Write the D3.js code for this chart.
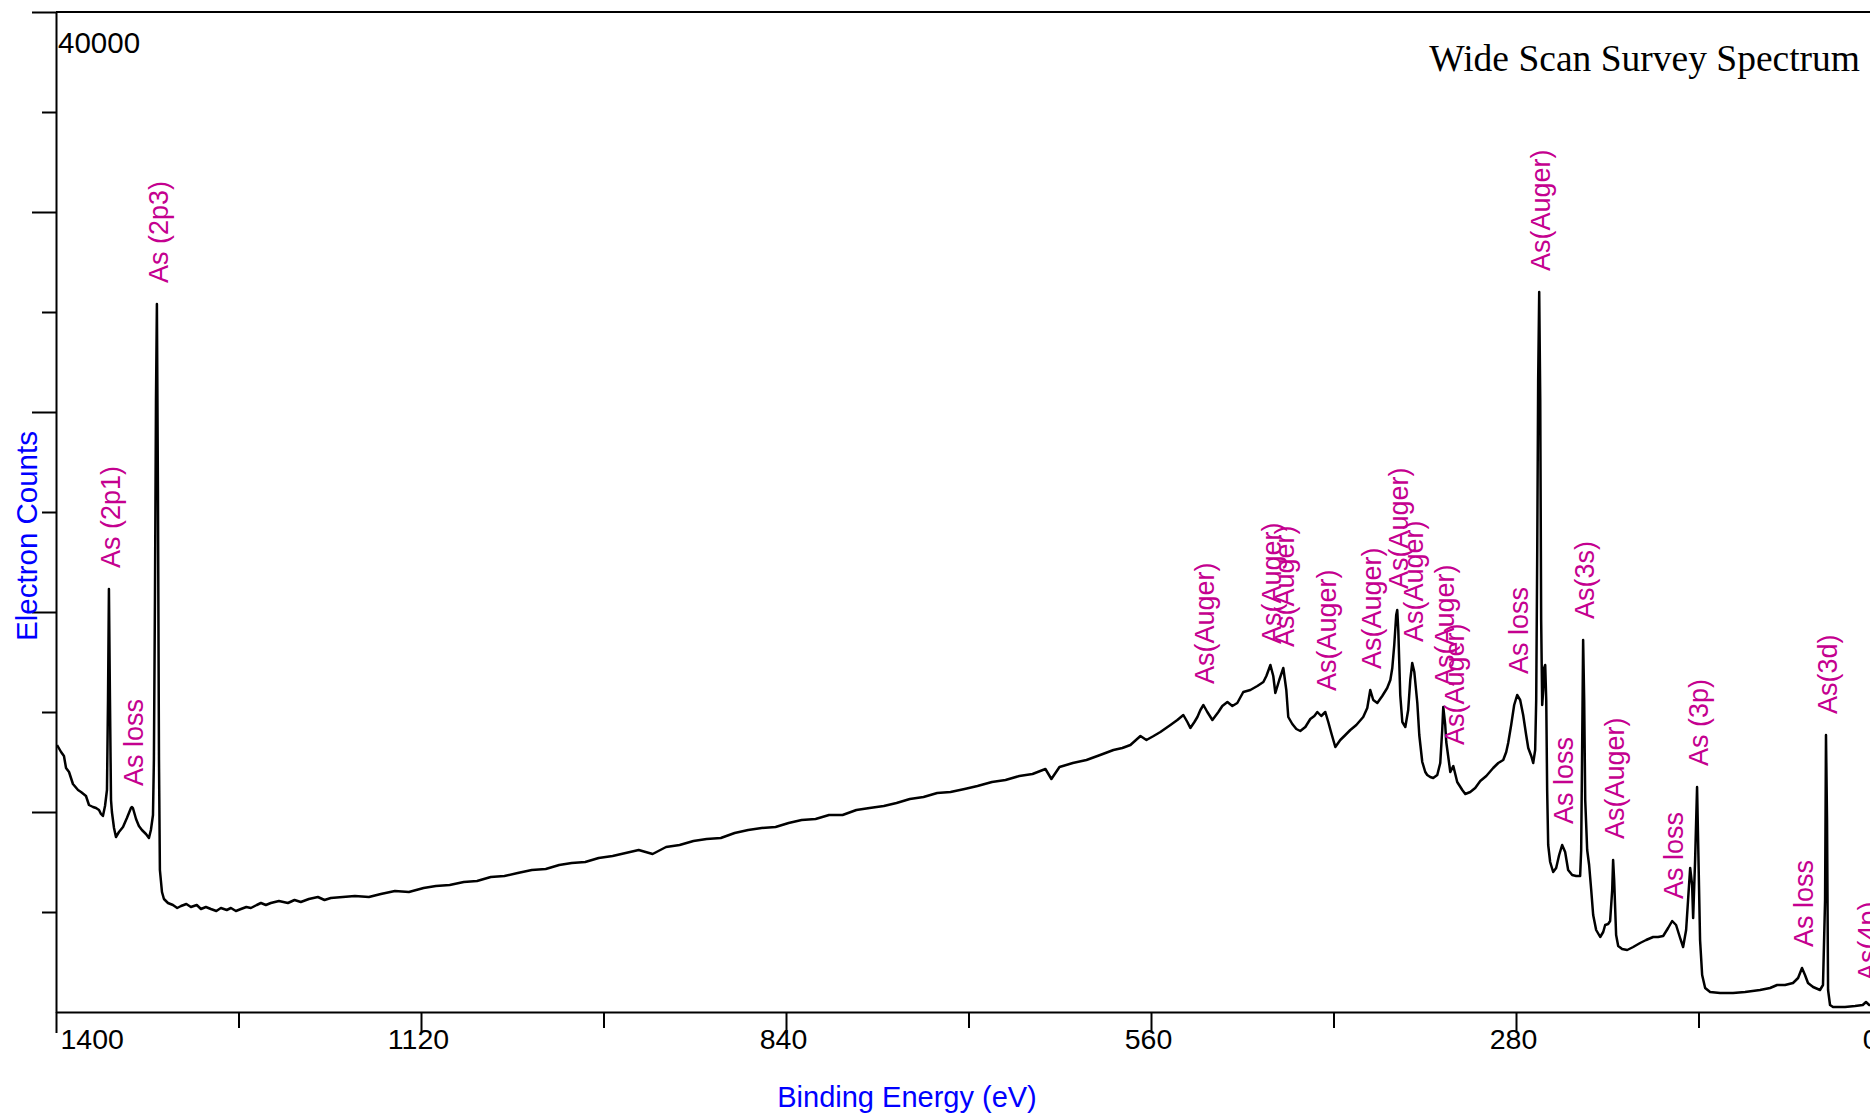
<!DOCTYPE html>
<html>
<head>
<meta charset="utf-8">
<title>Wide Scan Survey Spectrum</title>
<script src="https://cdn.jsdelivr.net/npm/d3@7"></script>
<style>
  html, body { margin: 0; padding: 0; background: #ffffff; }
  svg { display: block; }
  text { font-family: "Liberation Sans", Arial, sans-serif; }
</style>
</head>
<body>
<svg id="chart" width="1870" height="1117"></svg>
<script>
// XPS survey spectrum of arsenic: binding energy (eV) and electron counts
const energy = [
  1399.2, 1396.1, 1393.9, 1392.3, 1390.0, 1387.0, 1383.1, 1380.8, 1377.0, 1374.7,
  1371.6, 1369.3, 1367.0, 1365.5, 1364.0, 1362.4, 1360.9, 1360.1, 1359.4, 1358.6,
  1357.8, 1357.1, 1355.5, 1354.0, 1351.7, 1348.6, 1345.6, 1342.5, 1341.7, 1341.0,
  1338.6, 1336.4, 1334.1, 1331.0, 1328.7, 1327.2, 1325.6, 1324.9, 1324.1, 1323.3,
  1322.6, 1321.8, 1321.0, 1320.3, 1318.7,
  1317.2, 1314.1, 1310.3, 1307.0, 1304.1, 1300.0, 1296.5, 1292.0, 1288.8, 1285.0,
  1281.2, 1277.0, 1273.5, 1269.0, 1265.8, 1262.0, 1258.1, 1254.0, 1250.5, 1246.0,
  1242.8, 1239.0, 1235.2, 1229.0, 1222.1, 1217.0, 1212.2, 1206.0, 1199.1, 1194.0,
  1189.2, 1180.0, 1170.7, 1160.0, 1150.8, 1140.0, 1129.3, 1118.0, 1108.6, 1098.0,
  1087.2, 1077.0, 1066.5, 1056.0, 1045.8, 1035.0, 1024.3, 1014.0, 1004.4, 994.0,
  983.7, 973.0, 963.0, 953.0, 942.3, 932.0, 921.6, 911.0, 900.9, 890.0,
  879.4, 869.0, 858.7, 848.0, 838.0, 828.0, 817.3, 807.0, 796.6, 786.0,
  775.9, 765.0, 755.2, 745.0, 734.5, 724.0, 713.8, 703.0, 693.1, 682.0,
  671.6, 661.0, 650.9, 641.0, 636.4, 630.2, 620.0, 609.5, 599.0, 588.8,
  582.0, 575.8, 568.1, 563.5, 558.0, 552.8,
  545.1, 539.8, 535.2, 532.1, 529.8, 526.7, 524.4, 522.1, 519.8, 516.8,
  512.9, 508.3, 505.3, 501.4, 497.6, 493.8, 489.2, 483.8, 478.4, 473.8,
  471.5, 468.4, 466.2, 464.6, 461.6, 458.5, 456.2, 454.7, 451.6, 448.5,
  445.5, 441.6, 437.8, 434.7, 432.4, 429.4, 426.3, 424.0, 421.7, 418.6,
  414.8, 410.9, 407.1, 402.5, 397.2, 394.1, 391.8, 389.5, 386.4, 382.6,
  378.8, 376.4, 374.9, 373.4, 371.9, 371.1, 370.3, 368.8, 367.2, 364.9,
  362.7, 361.1, 359.6, 358.0, 355.7, 354.2, 351.9, 349.6, 348.1, 345.8,
  343.5, 340.4, 338.1, 336.6, 335.8, 334.3, 333.5, 330.4, 328.1, 325.1,
  321.2, 318.9, 315.1, 311.3, 307.4, 302.8, 297.5, 293.6, 289.8, 287.5,
  286.0, 283.7, 281.4, 279.1, 276.8, 274.5, 272.2, 270.6, 268.3, 266.8,
  265.3, 264.5, 263.7, 263.0, 262.2, 261.4, 260.7, 259.9, 259.1, 258.4,
  257.6, 256.8, 256.1, 255.3, 253.8, 251.5, 249.2, 246.9, 244.6, 242.3,
  240.0, 236.9, 233.8, 230.8, 230.0, 229.2, 228.5, 227.7, 226.9, 225.4,
  223.9, 222.3, 220.8, 218.5, 215.4, 213.1, 211.6, 209.3, 207.8, 206.2,
  205.5, 204.7, 203.2, 201.6, 198.6, 194.7, 190.1, 184.8, 180.2, 174.8,
  171.0, 167.1, 163.3, 160.2, 157.2, 154.1, 151.8, 149.5, 148.0, 146.4,
  144.9, 144.1, 142.6, 141.1, 140.3, 138.8, 137.2, 134.9, 131.1, 123.4,
  113.5, 104.3, 92.8, 85.1, 79.7, 73.6, 67.5, 63.6, 60.6, 58.3,
  56.0, 52.1, 46.8, 44.5, 42.9, 42.2, 41.4, 40.6, 39.1, 36.8,
  27.6, 19.9, 14.0, 11.5, 9.0, 0.0
];
const counts = [
  10680, 10400, 10240, 9760, 9600, 9120, 8880, 8800, 8640, 8280,
  8200, 8160, 8080, 7920, 7840, 8240, 8880, 12480, 16920, 12480,
  8480, 8000, 7360, 7000, 7200, 7400, 7760, 8160, 8200, 8160,
  7720, 7440, 7280, 7120, 6960, 7280, 7880, 10080, 16480, 24480,
  28320, 20880, 10080, 5680, 4800,
  4520, 4360, 4280, 4160, 4240, 4320, 4200, 4280, 4120, 4200,
  4120, 4040, 4160, 4080, 4160, 4040, 4120, 4200, 4160, 4280,
  4360, 4280, 4360, 4440, 4360, 4480, 4400, 4520, 4600, 4480,
  4560, 4600, 4640, 4600, 4720, 4840, 4800, 4960, 5040, 5080,
  5200, 5240, 5400, 5440, 5560, 5680, 5720, 5880, 5960, 6000,
  6160, 6240, 6360, 6480, 6320, 6600, 6680, 6840, 6920, 6960,
  7160, 7280, 7360, 7400, 7560, 7680, 7720, 7880, 7880, 8080,
  8160, 8240, 8360, 8520, 8600, 8760, 8800, 8920, 9040, 9200,
  9280, 9440, 9520, 9720, 9320, 9800, 9960, 10080, 10280, 10480,
  10560, 10680, 11040, 10880, 11040, 11200,
  11480, 11680, 11880, 11600, 11360, 11600, 11800, 12080, 12280, 12000,
  11680, 12000, 12240, 12400, 12240, 12360, 12800, 12880, 13040, 13200,
  13440, 13880, 13440, 12760, 13280, 13760, 12880, 11800, 11520, 11320,
  11240, 11400, 11720, 11840, 12000, 11840, 12000, 11600, 11160, 10600,
  10880, 11080, 11280, 11480, 11800, 12160, 12880, 12480, 12360, 12640,
  12960, 13280, 13760, 14680, 15880, 16080, 15280, 12680, 11600, 11400,
  12080, 13280, 13960, 13600, 12360, 11080, 10000, 9600, 9480, 9400,
  9360, 9480, 9960, 11280, 12200, 11480, 10800, 9600, 9840, 9200,
  8880, 8720, 8800, 8960, 9240, 9440, 9760, 9960, 10080, 10400,
  10760, 11480, 12280, 12680, 12480, 11880, 11080, 10560, 10240, 9960,
  10480, 12480, 18480, 25280, 28800, 24480, 15680, 12280, 12880, 13760,
  13880, 12480, 8880, 6680, 6000, 5600, 5760, 6280, 6680, 6400,
  5680, 5480, 5440, 5440, 6480, 10880, 14880, 12480, 8480, 6480,
  5880, 4880, 3880, 3280, 3000, 3200, 3480, 3520, 3640, 4880,
  6080, 5280, 3080, 2640, 2520, 2480, 2600, 2760, 2880, 3000,
  3000, 3040, 3360, 3640, 3480, 2960, 2600, 3280, 4480, 5760,
  5080, 3760, 6080, 9000, 6880, 2880, 1480, 960, 800, 760,
  760, 800, 880, 960, 1080, 1080, 1160, 1360, 1760, 1480,
  1160, 1000, 880, 1080, 4480, 11080, 7680, 880, 280, 200,
  200, 240, 280, 400, 280, 320
];

// Peak assignments: text, and the energy / counts of the peak each one marks
const peakLabels = [
  "As (2p1)", "As loss", "As (2p3)",
  "As(Auger)", "As(Auger)", "As(Auger)", "As(Auger)", "As(Auger)",
  "As(Auger)", "As(Auger)", "As(Auger)", "As(Auger)",
  "As loss", "As(Auger)", "As loss", "As(3s)", "As(Auger)",
  "As loss", "As (3p)", "As loss", "As(3d)", "As(4p)"
];
const peakEnergy = [
  1359.4, 1341.7, 1322.6,
  519.8, 468.4, 458.5, 426.3, 391.8,
  371.1, 359.6, 335.8, 328.1,
  279.1, 262.2, 244.6, 228.5, 205.5,
  160.2, 141.1, 60.6, 42.2, 11.5
];
const peakCounts = [
  16920, 8200, 28320,
  12280, 13880, 13760, 12000, 12880,
  16080, 13960, 12200, 9840,
  12680, 28800, 6680, 14880, 6080,
  3680, 9000, 1760, 11080, 400
];

// Axis ticks
const xLabelTicks = [1400, 1120, 840, 560, 280, 0];
const xMinorTicks = [1260, 980, 700, 420, 140];
const yMajorTicks = [8000, 16000, 24000, 32000, 40000];
const yMinorTicks = [4000, 12000, 20000, 28000, 36000];

const svg = d3.select("#chart");
const plotLeft = 56, plotRight = 1881, plotTop = 12, plotBottom = 1012;

const x = d3.scaleLinear().domain([1400, 0]).range([plotLeft, plotRight]);
const y = d3.scaleLinear().domain([0, 40000]).range([plotBottom, plotTop]);

const axisColor = "#000000";
const labelColor = "#c4008f";
const titleBlue = "#0000ff";

// x axis: labelled ticks and unlabelled minor ticks
const gx = svg.append("g")
  .attr("transform", `translate(0,${plotBottom})`)
  .call(d3.axisBottom(x).tickValues(xLabelTicks).tickSize(21).tickSizeOuter(0)
    .tickFormat(d3.format("d")));
gx.select(".domain").attr("stroke", axisColor).attr("stroke-width", 2);
gx.selectAll(".tick line").attr("stroke", axisColor).attr("stroke-width", 2);
gx.selectAll(".tick text")
  .attr("y", 37).attr("dy", 0).attr("x", -3)
  .attr("fill", "#000")
  .style("font-size", "28.5px")
  .style("font-family", "'Liberation Sans', Arial, sans-serif");
gx.selectAll(".tick").filter(d => d === 1400).select("text")
  .attr("text-anchor", "start").attr("x", 4);
gx.selectAll(".tick").filter(d => d === 0).select("text")
  .attr("text-anchor", "end").attr("x", -3);

const gxMinor = svg.append("g")
  .attr("transform", `translate(0,${plotBottom})`)
  .call(d3.axisBottom(x).tickValues(xMinorTicks).tickSize(16).tickSizeOuter(0).tickFormat(""));
gxMinor.select(".domain").remove();
gxMinor.selectAll(".tick line").attr("stroke", axisColor).attr("stroke-width", 2);

// y axis: major and minor ticks, only the top value is labelled
const gy = svg.append("g")
  .attr("transform", `translate(${plotLeft},0)`)
  .call(d3.axisLeft(y).tickValues(yMajorTicks).tickSize(24).tickSizeOuter(0).tickFormat(""));
gy.select(".domain").attr("stroke", axisColor).attr("stroke-width", 2);
gy.selectAll(".tick line").attr("stroke", axisColor).attr("stroke-width", 2);

const gyMinor = svg.append("g")
  .attr("transform", `translate(${plotLeft},0)`)
  .call(d3.axisLeft(y).tickValues(yMinorTicks).tickSize(14).tickSizeOuter(0).tickFormat(""));
gyMinor.select(".domain").remove();
gyMinor.selectAll(".tick line").attr("stroke", axisColor).attr("stroke-width", 2);

svg.append("text")
  .attr("x", plotLeft + 2).attr("y", y(40000) + 41)
  .attr("fill", "#000")
  .style("font-size", "29.5px")
  .text(d3.format("d")(40000));

// top frame line
svg.append("line")
  .attr("x1", plotLeft).attr("x2", plotRight)
  .attr("y1", y(40000)).attr("y2", y(40000))
  .attr("stroke", axisColor).attr("stroke-width", 2);

// spectrum trace
const points = energy.map((e, i) => ({ e, c: counts[i] }));
svg.append("path")
  .datum(points)
  .attr("fill", "none")
  .attr("stroke", "#000")
  .attr("stroke-width", 2.5)
  .attr("stroke-linejoin", "round")
  .attr("d", d3.line().x(d => x(d.e)).y(d => y(d.c)));

// rotated peak assignments above each peak
svg.append("g").selectAll("text")
  .data(peakLabels.map((t, i) => ({ t, e: peakEnergy[i], c: peakCounts[i] })))
  .join("text")
  .attr("transform", d => `translate(${x(d.e) + 11},${y(d.c) - 21}) rotate(-90)`)
  .attr("text-anchor", "start")
  .attr("fill", labelColor)
  .style("font-size", "27px")
  .text(d => d.t);

// axis titles
svg.append("text")
  .attr("x", 907).attr("y", 1107)
  .attr("text-anchor", "middle")
  .attr("fill", titleBlue)
  .style("font-size", "29px")
  .text("Binding Energy (eV)");

svg.append("text")
  .attr("transform", "translate(37,536) rotate(-90)")
  .attr("text-anchor", "middle")
  .attr("fill", titleBlue)
  .style("font-size", "29.5px")
  .text("Electron Counts");

// chart title
svg.append("text")
  .attr("x", 1860).attr("y", 71)
  .attr("text-anchor", "end")
  .attr("fill", "#000")
  .style("font-family", "'Liberation Serif', 'Times New Roman', serif")
  .style("font-size", "37.5px")
  .text("Wide Scan Survey Spectrum");
</script>
</body>
</html>
